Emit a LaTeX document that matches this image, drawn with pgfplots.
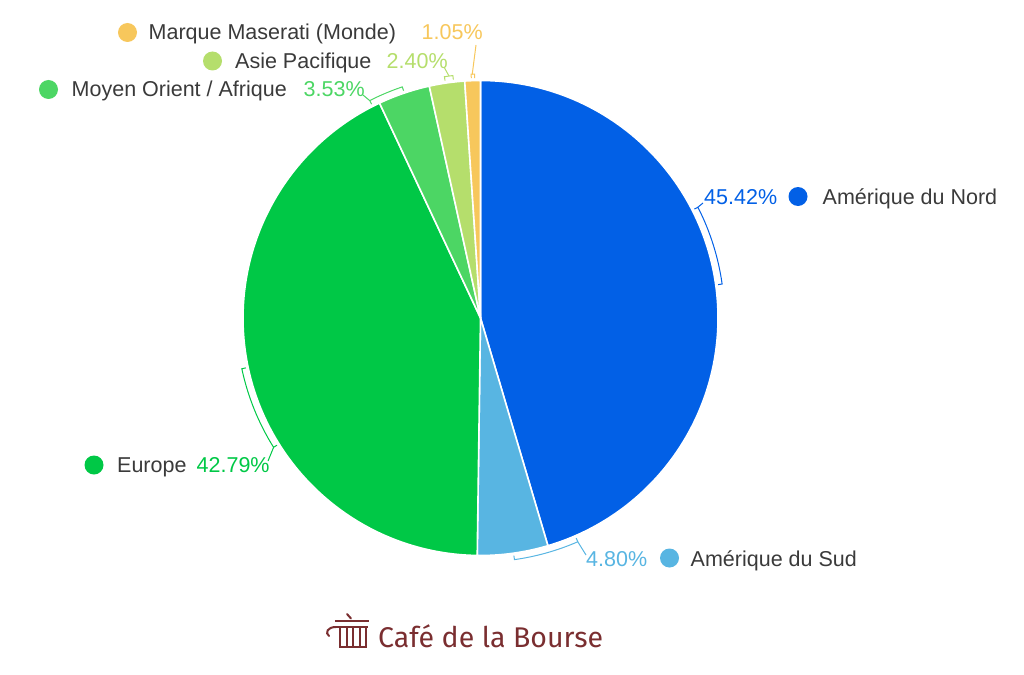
\documentclass[border=0pt]{standalone}
\usepackage{pgfplots}
\pgfplotsset{compat=1.18}
\usepackage{pgfplotstable}
\usepackage{fontspec}
\setmainfont{Liberation Sans}
\newfontfamily\logofont{Fira Sans}

\definecolor{cNA}{HTML}{0260E6}
\definecolor{cSA}{HTML}{58B5E2}
\definecolor{cEU}{HTML}{00C846}
\definecolor{cME}{HTML}{4CD664}
\definecolor{cAP}{HTML}{B5DE6C}
\definecolor{cMM}{HTML}{F7C75C}
\definecolor{txt}{HTML}{3A3A3A}
\definecolor{logo}{HTML}{7A2E30}

\pgfplotstableread{
name value
NA 45.42
SA 4.80
EU 42.79
ME 3.53
AP 2.40
MM 1.05
}\piedata

\def\cx{480.5}
\def\cy{318}
\def\R{237.5}
\newcommand\lbl{\fontsize{21.5}{25}\selectfont}

\newcommand\slice[3]{\fill[#3, draw=white, line width=1.6pt, line join=round]
  (axis cs:\cx,\cy) -- ++(#1:\R pt) arc[start angle=#1, end angle=#2, radius=\R pt] -- cycle;}
\newcommand\bracket[3]{\draw[#3, line width=1pt]
  (axis cs:\cx,\cy) ++(#1:240pt) -- ++(#1:4pt) arc[start angle=#1, end angle=#2, radius=244pt] -- ++(#2:-4pt);}
\newcommand\logobar[1]{\draw[logo, line width=2pt] (axis cs:#1,627) -- (axis cs:#1,646);}

\begin{document}%
\begin{tikzpicture}
\pgfmathsetmacro\aA{90}
\pgfplotstablegetelem{0}{value}\of\piedata\pgfmathsetmacro\aB{\aA-3.6*\pgfplotsretval}
\pgfplotstablegetelem{1}{value}\of\piedata\pgfmathsetmacro\aC{\aB-3.6*\pgfplotsretval}
\pgfplotstablegetelem{2}{value}\of\piedata\pgfmathsetmacro\aD{\aC-3.6*\pgfplotsretval}
\pgfplotstablegetelem{3}{value}\of\piedata\pgfmathsetmacro\aE{\aD-3.6*\pgfplotsretval}
\pgfplotstablegetelem{4}{value}\of\piedata\pgfmathsetmacro\aF{\aE-3.6*\pgfplotsretval}
\pgfmathsetmacro\aG{-270}
\begin{axis}[at={(0,0)}, anchor=south west, width=1024pt, height=674pt, scale only axis,
  xmin=0, xmax=1024, ymin=0, ymax=674, y dir=reverse, hide axis, xtick=\empty, ytick=\empty, clip=false]
\path (axis cs:0,0) rectangle (axis cs:1024,674);
% pie slices
\slice{\aA}{\aB}{cNA}
\slice{\aB}{\aC}{cSA}
\slice{\aC}{\aD}{cEU}
\slice{\aD}{\aE}{cME}
\slice{\aE}{\aF}{cAP}
\slice{\aF}{\aG}{cMM}
% brackets and leaders
\bracket{27}{8}{cNA}
\draw[cNA, line width=1pt] (axis cs:697.9,207.2) -- (axis cs:703,203);
\bracket{-82}{-66.5}{cSA}
\draw[cSA, line width=1pt] (axis cs:577.8,541.8) -- (axis cs:586,555);
\bracket{192}{212}{cEU}
\draw[cEU, line width=1pt] (axis cs:273.6,447.3) -- (axis cs:268,461);
\bracket{117}{108.7}{cME}
\draw[cME, line width=1pt] (axis cs:369.7,100.6) -- (axis cs:363,95);
\bracket{98.5}{96.5}{cAP}
\draw[cAP, line width=1pt] (axis cs:449,76) -- (axis cs:444,67);
\bracket{92.2}{91.4}{cMM}
\draw[cMM, line width=1pt] (axis cs:472.2,74.5) -- (axis cs:476,45);
% labels
\fill[cMM] (axis cs:127.5,32.5) circle[radius=9.5pt];
\node[anchor=base west, inner sep=0, text=txt, font=\lbl] at (axis cs:148.5,40) {Marque Maserati (Monde)};
\node[anchor=base west, inner sep=0, text=cMM, font=\lbl] at (axis cs:421.5,40) {1.05\%};
\fill[cAP] (axis cs:212.5,61) circle[radius=9.5pt];
\node[anchor=base west, inner sep=0, text=txt, font=\lbl] at (axis cs:235,68.5) {Asie Pacifique};
\node[anchor=base west, inner sep=0, text=cAP, font=\lbl] at (axis cs:386.5,68.5) {2.40\%};
\fill[cME] (axis cs:48.5,89.5) circle[radius=9.5pt];
\node[anchor=base west, inner sep=0, text=txt, font=\lbl] at (axis cs:71.5,97) {Moyen Orient / Afrique};
\node[anchor=base west, inner sep=0, text=cME, font=\lbl] at (axis cs:303.5,97) {3.53\%};
\node[anchor=base west, inner sep=0, text=cNA, font=\lbl] at (axis cs:704,204.5) {45.42\%};
\fill[cNA] (axis cs:798,196.5) circle[radius=9.5pt];
\node[anchor=base west, inner sep=0, text=txt, font=\lbl] at (axis cs:822.5,204.5) {Amérique du Nord};
\node[anchor=base west, inner sep=0, text=cSA, font=\lbl] at (axis cs:586,566) {4.80\%};
\fill[cSA] (axis cs:669.5,558) circle[radius=9.5pt];
\node[anchor=base west, inner sep=0, text=txt, font=\lbl] at (axis cs:690.5,566) {Amérique du Sud};
\fill[cEU] (axis cs:94,465) circle[radius=9.5pt];
\node[anchor=base west, inner sep=0, text=txt, font=\lbl] at (axis cs:117,472.5) {Europe};
\node[anchor=base west, inner sep=0, text=cEU, font=\lbl] at (axis cs:196.5,472.5) {42.79\%};
% logo
\draw[logo, line width=2pt, line cap=round] (axis cs:347,614) -- (axis cs:351,618.5);
\draw[logo, line width=2.4pt] (axis cs:335,621) -- (axis cs:369,621);
\draw[logo, line width=2pt] (axis cs:336,627) -- (axis cs:368,627);
\draw[logo, line width=2pt, line cap=round] (axis cs:336,627) .. controls (axis cs:327,627) and (axis cs:325,633) .. (axis cs:329,636);
\logobar{340}\logobar{346.5}\logobar{353}\logobar{359.5}\logobar{366}
\draw[logo, line width=2pt] (axis cs:339,647) -- (axis cs:367,647);
\node[anchor=base west, inner sep=0, text=logo] at (axis cs:378,647) {\logofont\fontsize{28.5}{33}\selectfont Café de la Bourse};
\end{axis}
\end{tikzpicture}%
\end{document}
